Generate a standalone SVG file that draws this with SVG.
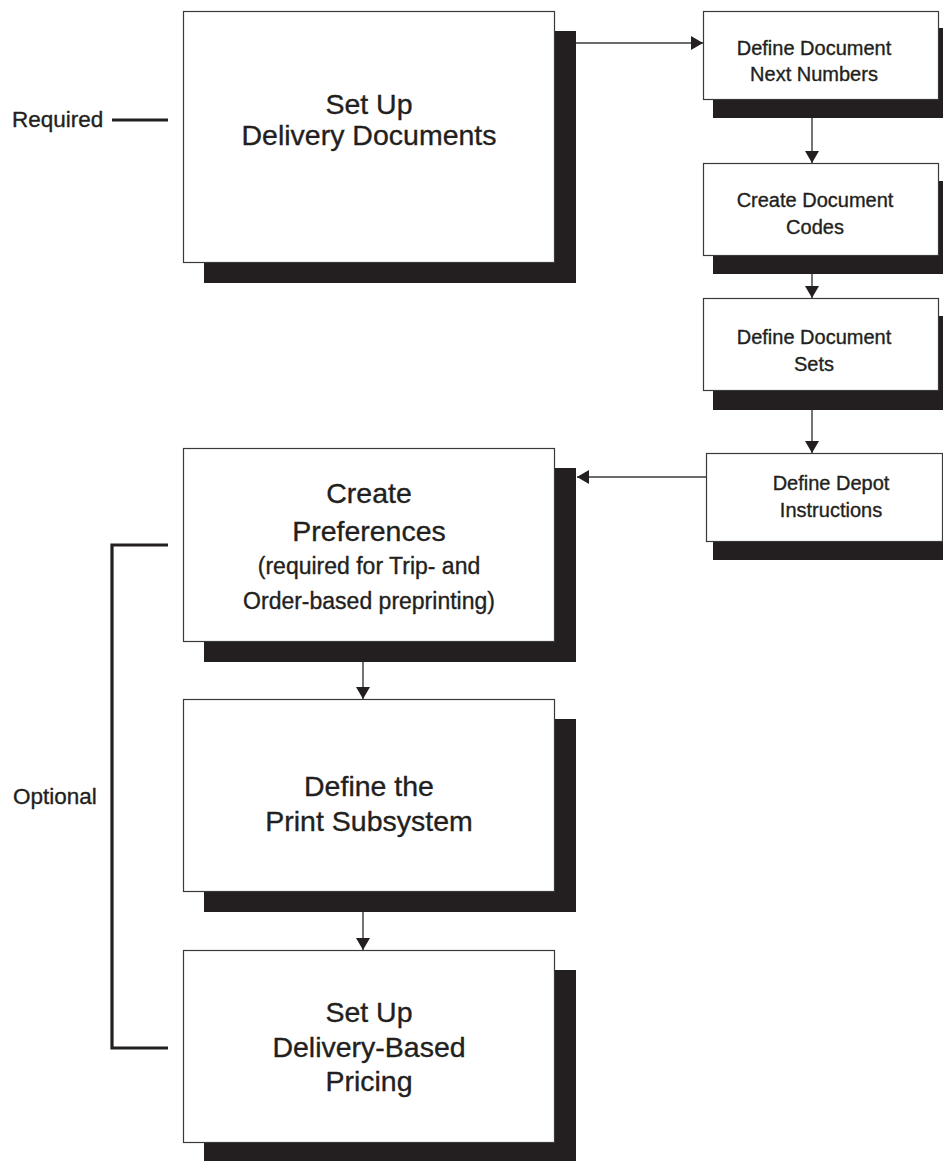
<svg xmlns="http://www.w3.org/2000/svg" width="943" height="1161" viewBox="0 0 943 1161">
  <defs>
    <marker id="arrow" viewBox="0 0 12 14" refX="12" refY="7" markerWidth="12" markerHeight="14" markerUnits="userSpaceOnUse" orient="auto">
      <path d="M0,0 L12,7 L0,14 Z" fill="#231f20"/>
    </marker>
    <style>
      .box { fill: #ffffff; stroke: #3a3a3a; stroke-width: 1.2; }
      .shadow { fill: #231f20; }
      text { font-family: "Liberation Sans", Arial, sans-serif; fill: #231f20; stroke: #231f20; stroke-width: 0.35; }
      .big { font-size: 28.5px; text-anchor: middle; }
      .mid { font-size: 23px; text-anchor: middle; }
      .small { font-size: 20px; text-anchor: middle; }
      .side { font-size: 22.5px; }
      .link { fill: none; stroke: #3a3a3a; stroke-width: 1.4; marker-end: url(#arrow); }
      .bracket { fill: none; stroke: #231f20; stroke-width: 3.2; }
    </style>
  </defs>
  <rect width="943" height="1161" fill="#ffffff"/>

  <!-- Required / Optional brackets -->
  <g id="required-label">
    <text class="side" x="12" y="127">Required</text>
    <line class="bracket" x1="112" y1="120" x2="168" y2="120"/>
  </g>
  <g id="optional-label">
    <text class="side" x="13" y="804">Optional</text>
    <path class="bracket" d="M168,545 H112 V1048 H168"/>
  </g>

  <!-- Left column -->
  <g id="set-up-delivery-documents">
    <rect class="shadow" x="204" y="31" width="372" height="252"/>
    <rect class="box" x="183.5" y="11.5" width="371" height="251"/>
    <text class="big" x="369" y="114">Set Up</text>
    <text class="big" x="369" y="145">Delivery Documents</text>
  </g>

  <g id="create-preferences">
    <rect class="shadow" x="204" y="468" width="372" height="194"/>
    <rect class="box" x="183.5" y="448.5" width="371" height="193"/>
    <text class="big" x="369" y="503">Create</text>
    <text class="big" x="369" y="541">Preferences</text>
    <text class="mid" x="369" y="574">(required for Trip- and</text>
    <text class="mid" x="369" y="609">Order-based preprinting)</text>
  </g>

  <g id="define-print-subsystem">
    <rect class="shadow" x="204" y="719" width="372" height="193"/>
    <rect class="box" x="183.5" y="699.5" width="371" height="192"/>
    <text class="big" x="369" y="796">Define the</text>
    <text class="big" x="369" y="831">Print Subsystem</text>
  </g>

  <g id="set-up-delivery-based-pricing">
    <rect class="shadow" x="204" y="970" width="372" height="193"/>
    <rect class="box" x="183.5" y="950.5" width="371" height="192"/>
    <text class="big" x="369" y="1022">Set Up</text>
    <text class="big" x="369" y="1057">Delivery-Based</text>
    <text class="big" x="369" y="1091">Pricing</text>
  </g>

  <!-- Right column -->
  <g id="define-document-next-numbers">
    <rect class="shadow" x="713" y="28" width="240" height="90"/>
    <rect class="box" x="703.5" y="11.5" width="235" height="88"/>
    <text class="small" x="814" y="55">Define Document</text>
    <text class="small" x="814" y="81">Next Numbers</text>
  </g>

  <g id="create-document-codes">
    <rect class="shadow" x="713" y="181" width="240" height="93"/>
    <rect class="box" x="703.5" y="163.5" width="235" height="92"/>
    <text class="small" x="815" y="207">Create Document</text>
    <text class="small" x="815" y="234">Codes</text>
  </g>

  <g id="define-document-sets">
    <rect class="shadow" x="713" y="316" width="240" height="94"/>
    <rect class="box" x="703.5" y="298.5" width="235" height="92"/>
    <text class="small" x="814" y="344">Define Document</text>
    <text class="small" x="814" y="371">Sets</text>
  </g>

  <g id="define-depot-instructions">
    <rect class="shadow" x="713" y="472" width="240" height="88"/>
    <rect class="box" x="706.5" y="453.5" width="236" height="88"/>
    <text class="small" x="831" y="490">Define Depot</text>
    <text class="small" x="831" y="517">Instructions</text>
  </g>

  <!-- Connectors -->
  <g id="connectors">
    <line class="link" x1="576" y1="43" x2="703" y2="43"/>
    <line class="link" x1="812" y1="118" x2="812" y2="163"/>
    <line class="link" x1="812" y1="274" x2="812" y2="298"/>
    <line class="link" x1="812" y1="410" x2="812" y2="453"/>
    <line class="link" x1="706" y1="477" x2="577" y2="477"/>
    <line class="link" x1="363" y1="662" x2="363" y2="699"/>
    <line class="link" x1="363" y1="912" x2="363" y2="950"/>
  </g>
</svg>
